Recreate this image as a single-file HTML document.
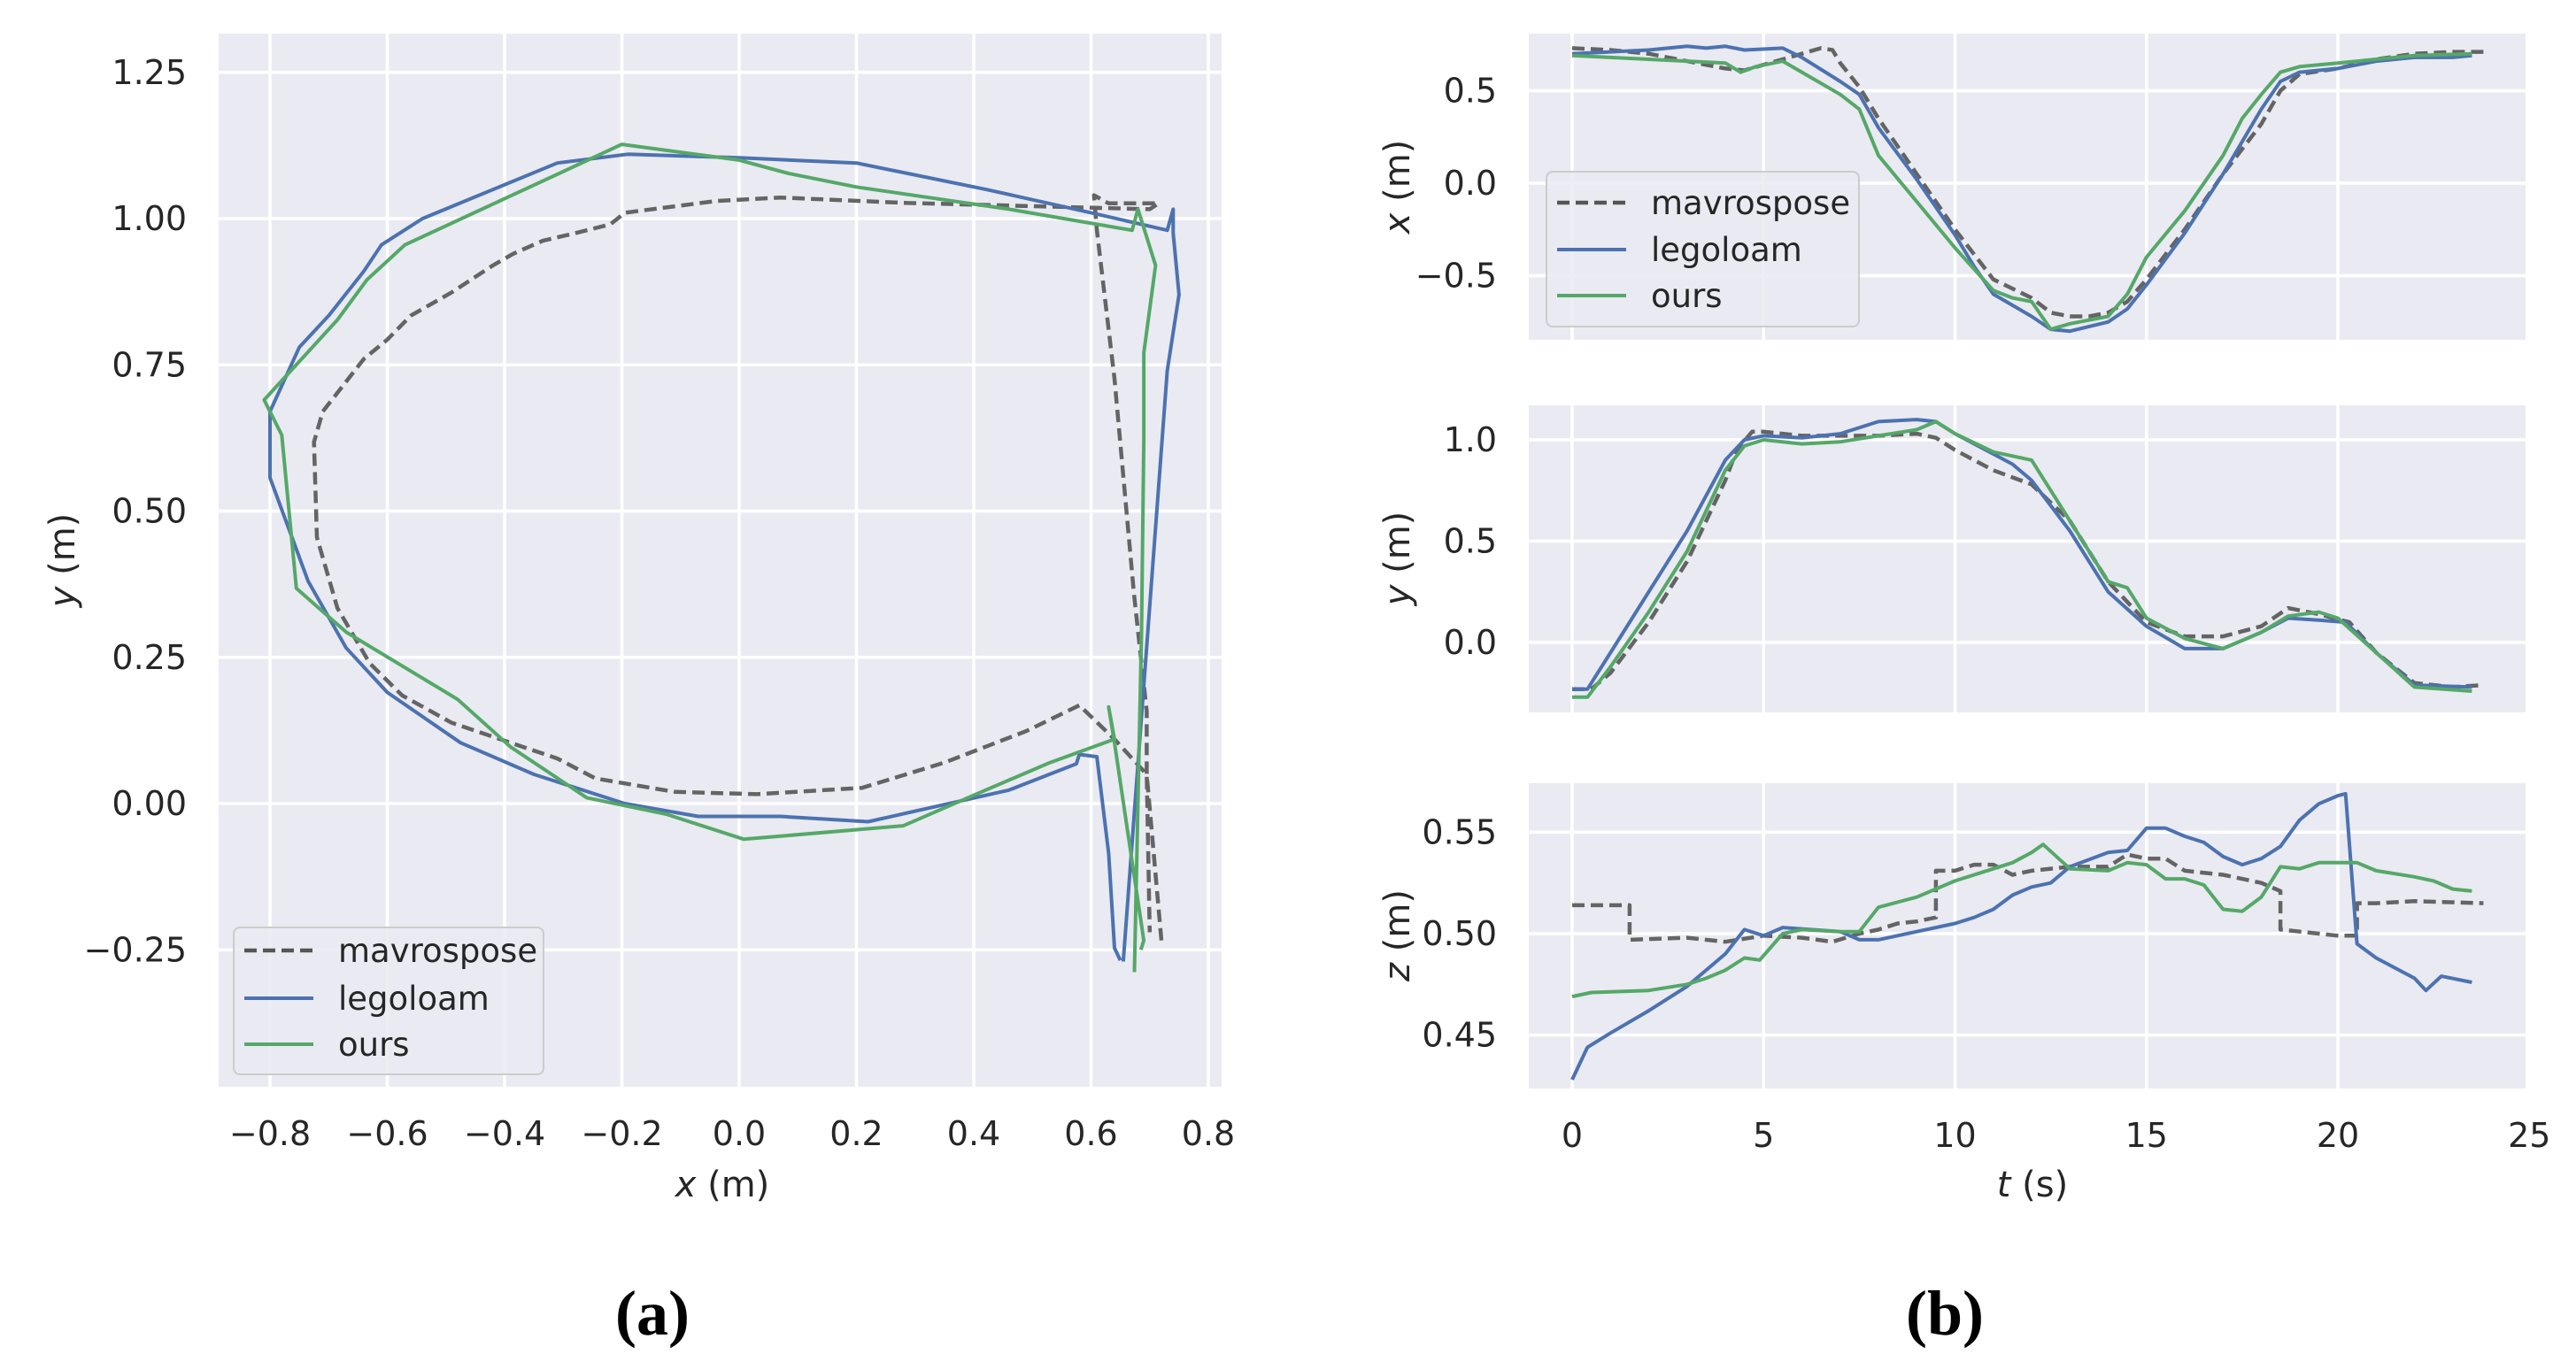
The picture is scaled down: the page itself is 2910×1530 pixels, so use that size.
<!DOCTYPE html>
<html><head><meta charset="utf-8"><style>
html,body{margin:0;padding:0;background:#fff;}
svg{display:block;font-family:"DejaVu Sans","Liberation Sans",sans-serif;}
</style></head><body>
<svg id="fig" width="2910" height="1530" viewBox="0 0 2910 1530" xmlns="http://www.w3.org/2000/svg"></svg>
<script>
// ---------- Panel (a) trajectory data ----------
const trajMavX=[0.72,0.695,0.695,0.673,0.64,0.61,0.605,0.63,0.715,0.70,0.28,0.07,-0.04,-0.195,-0.22,-0.28,-0.335,-0.385,-0.42,-0.49,-0.56,-0.60,-0.64,-0.71,-0.725,-0.72,-0.685,-0.63,-0.575,-0.49,-0.31,-0.245,-0.11,0.03,0.21,0.35,0.49,0.58,0.64,0.695,0.70];
const trajMavY=[-0.234,0.05,0.158,0.36,0.726,0.98,1.04,1.026,1.026,1.016,1.027,1.036,1.03,1.01,0.99,0.975,0.962,0.94,0.92,0.874,0.834,0.793,0.76,0.67,0.618,0.455,0.334,0.24,0.185,0.138,0.077,0.043,0.02,0.016,0.027,0.07,0.124,0.168,0.11,0.05,-0.22];
const trajLegoX=[0.655,0.73,0.75,0.74,0.74,0.73,0.60,0.42,0.20,0.0,-0.19,-0.31,-0.54,-0.61,-0.64,-0.70,-0.75,-0.80,-0.80,-0.735,-0.67,-0.60,-0.475,-0.35,-0.195,-0.07,0.07,0.22,0.46,0.575,0.58,0.61,0.63,0.64,0.65];
const trajLegoY=[-0.27,0.74,0.87,0.975,1.016,0.98,1.01,1.05,1.095,1.104,1.11,1.095,1.0,0.955,0.91,0.834,0.78,0.67,0.557,0.38,0.266,0.19,0.104,0.05,0.0,-0.022,-0.022,-0.031,0.023,0.068,0.084,0.08,-0.085,-0.247,-0.268];
const trajOursX=[0.674,0.686,0.69,0.69,0.71,0.68,0.67,0.46,0.20,0.085,0.0,-0.20,-0.57,-0.635,-0.685,-0.81,-0.78,-0.755,-0.67,-0.48,-0.39,-0.26,-0.125,0.008,0.28,0.39,0.53,0.64,0.63,0.64,0.69,0.685];
const trajOursY=[-0.288,0.29,0.62,0.77,0.92,1.016,0.98,1.016,1.054,1.077,1.10,1.127,0.955,0.895,0.827,0.69,0.63,0.368,0.293,0.178,0.097,0.01,-0.018,-0.061,-0.038,0.01,0.07,0.11,0.165,0.104,-0.234,-0.25];
const aXTicks=[-0.8,-0.6,-0.4,-0.2,0.0,0.2,0.4,0.6,0.8];
const aXTickLabels=["−0.8","−0.6","−0.4","−0.2","0.0","0.2","0.4","0.6","0.8"];
const aYTicks=[-0.25,0,0.25,0.5,0.75,1.0,1.25];
const aYTickLabels=["−0.25","0.00","0.25","0.50","0.75","1.00","1.25"];

// ---------- Panel (b) time series data ----------
const xMavT=[0,1,2,3,4,4.5,5,5.5,6,6.5,6.8,7,7.5,8,9,10,11,12,12.5,13,13.5,14,14.5,15,16,17,18,18.5,19,20,21,22,23,23.8];
const xMavV=[0.73,0.72,0.70,0.66,0.62,0.61,0.64,0.67,0.70,0.73,0.72,0.65,0.52,0.35,0.05,-0.25,-0.52,-0.62,-0.70,-0.72,-0.72,-0.70,-0.64,-0.52,-0.25,0.05,0.32,0.50,0.59,0.62,0.67,0.70,0.71,0.71];
const xLegoT=[0,1,2,3,3.5,4,4.5,5.5,6,7,7.5,8,9,10,10.5,11,12,12.5,13,14,14.5,15,16,17,18,18.5,19,20,21,22,23,23.5];
const xLegoV=[0.70,0.71,0.72,0.74,0.73,0.74,0.72,0.73,0.68,0.55,0.48,0.30,0.02,-0.28,-0.45,-0.60,-0.72,-0.79,-0.80,-0.75,-0.68,-0.55,-0.27,0.05,0.40,0.55,0.60,0.62,0.66,0.68,0.68,0.69];
const xOursT=[0,1,2,3,4,4.4,4.8,5.5,6,7,7.5,8,9,10,11,11.5,12,12.5,13,14,14.5,15,16,17,17.5,18,18.5,19,20,21,22,23.5];
const xOursV=[0.69,0.68,0.67,0.66,0.65,0.60,0.63,0.66,0.60,0.48,0.40,0.15,-0.10,-0.35,-0.58,-0.62,-0.64,-0.79,-0.76,-0.72,-0.60,-0.40,-0.15,0.15,0.35,0.48,0.60,0.63,0.65,0.67,0.69,0.70];

const yMavT=[0,0.5,1,2,3,4,4.3,4.7,5,6,7,8,9,9.5,10,11,12,13,14,15,16,17,18,18.7,19.5,20.3,21,22,23,23.8];
const yMavV=[-0.23,-0.23,-0.15,0.10,0.40,0.80,0.95,1.04,1.04,1.02,1.02,1.02,1.03,1.01,0.95,0.85,0.78,0.60,0.30,0.10,0.03,0.03,0.08,0.17,0.14,0.10,-0.05,-0.20,-0.22,-0.21];
const yLegoT=[0,0.4,1,2,3,4,4.5,5,6,7,8,9,9.5,10,11,11.5,12,13,14,15,16,17,18,18.7,19.5,20.2,21,22,23.5];
const yLegoV=[-0.23,-0.23,-0.05,0.25,0.55,0.90,1.00,1.02,1.01,1.03,1.09,1.10,1.09,1.03,0.93,0.88,0.80,0.55,0.25,0.08,-0.03,-0.03,0.05,0.12,0.11,0.10,-0.05,-0.21,-0.22];
const yOursT=[0,0.4,1,2,3,4,4.5,5,6,7,8,9,9.5,10,11,12,13,14,14.5,15,16,17,18,18.7,19.5,20,21,22,23.5];
const yOursV=[-0.27,-0.27,-0.12,0.15,0.45,0.85,0.97,1.00,0.98,0.99,1.02,1.05,1.09,1.03,0.94,0.90,0.60,0.30,0.27,0.12,0.02,-0.03,0.05,0.13,0.15,0.12,-0.05,-0.22,-0.24];

const zMavT=[0,1.5,1.5,3,4,5,6,6.8,7.5,8,8.5,9,9.5,9.5,10,10.5,11,11.5,12,13,14,14.5,15,15.5,16,17,18,18.5,18.5,19,20,20.5,20.5,21,22,23.8];
const zMavV=[0.514,0.514,0.497,0.498,0.496,0.499,0.498,0.496,0.500,0.502,0.505,0.506,0.508,0.531,0.531,0.534,0.534,0.529,0.531,0.533,0.533,0.539,0.537,0.537,0.531,0.529,0.525,0.521,0.502,0.501,0.499,0.499,0.515,0.515,0.516,0.515];
const zLegoT=[0,0.4,1,2,3,4,4.5,5,5.5,7,7.5,8,9,10,10.5,11,11.5,12,12.5,13,14,14.5,15,15.5,16,16.5,17,17.5,18,18.5,19,19.5,20,20.2,20.5,21,22,22.3,22.7,23.5];
const zLegoV=[0.428,0.444,0.451,0.462,0.474,0.490,0.502,0.499,0.503,0.501,0.497,0.497,0.501,0.505,0.508,0.512,0.519,0.523,0.525,0.533,0.540,0.541,0.552,0.552,0.548,0.545,0.538,0.534,0.537,0.543,0.556,0.564,0.568,0.569,0.495,0.488,0.478,0.472,0.479,0.476];
const zOursT=[0,0.5,2,3,3.5,4,4.5,4.9,5.5,6,7,7.5,8,9,10,11,11.5,12,12.3,13,14,14.5,15,15.5,16,16.5,17,17.5,18,18.5,19,19.5,20,20.5,21,22,22.5,23,23.5];
const zOursV=[0.469,0.471,0.472,0.475,0.478,0.482,0.488,0.487,0.500,0.502,0.501,0.501,0.513,0.518,0.526,0.532,0.535,0.540,0.544,0.532,0.531,0.535,0.534,0.527,0.527,0.524,0.512,0.511,0.518,0.533,0.532,0.535,0.535,0.535,0.531,0.528,0.526,0.522,0.521];

const tTicks=[0,5,10,15,20,25];
const tTickLabels=["0","5","10","15","20","25"];
const xPanelTicks=[-0.5,0,0.5];
const xPanelTickLabels=["−0.5","0.0","0.5"];
const yPanelTicks=[0,0.5,1.0];
const yPanelTickLabels=["0.0","0.5","1.0"];
const zPanelTicks=[0.45,0.50,0.55];
const zPanelTickLabels=["0.45","0.50","0.55"];

const NS="http://www.w3.org/2000/svg";
const svg=document.getElementById('fig');
function mk(tag,attrs,parent){const e=document.createElementNS(NS,tag);for(const k in attrs)e.setAttribute(k,attrs[k]);(parent||svg).appendChild(e);return e;}
const C_MAV="#555555",C_LEGO="#4c72b0",C_OURS="#55a868",BG="#eaeaf2",TXT="#262626";

function panel(name,L,T,R,B,xs,ys,xticks,xlabels,yticks,ylabels,showX){
  const g=mk('g',{});
  
  
  const bg=mk('rect',{x:L,y:T,width:R-L,height:B-T,fill:BG},g);
  
  
  xticks.forEach((v,i)=>{const px=xs(v);if(px<L-6||px>R+6)return;
    if(px>=L&&px<=R){
      const l=mk('line',{x1:px,x2:px,y1:T,y2:B,stroke:'#fff','stroke-width':3.5},g);
      
      
    }
    if(showX){const t=mk('text',{x:px,y:B+66,'font-size':38,fill:TXT,'text-anchor':'middle'},g);t.textContent=xlabels[i];
      
      }
  });
  yticks.forEach((v,i)=>{const py=ys(v);
    const l=mk('line',{x1:L,x2:R,y1:py,y2:py,stroke:'#fff','stroke-width':3.5},g);
    
    
    const t=mk('text',{x:L-36,y:py+13,'font-size':38,fill:TXT,'text-anchor':'end'},g);t.textContent=ylabels[i];
    
    
  });
  const clipId='clip-'+name;
  const cp=mk('clipPath',{id:clipId},g);mk('rect',{x:L,y:T,width:R-L,height:B-T},cp);
  const lg=mk('g',{'clip-path':'url(#'+clipId+')'},g);
  return lg;
}
function series(parent,xArr,yArr,xs,ys,color,dashed,name){
  const pts=xArr.map((v,i)=>xs(v).toFixed(1)+','+ys(yArr[i]).toFixed(1)).join(' ');
  const a={points:pts,fill:'none',stroke:color,'stroke-width':dashed?4.5:4,'stroke-linejoin':'round'};
  if(dashed){a['stroke-dasharray']='14,7';a['stroke-opacity']=0.9;}
  const p=mk('polyline',a,parent);
  
  
}
function legend(x,y,w,h,rows,name){
  const g=mk('g',{});
  
  
  mk('rect',{x:x,y:y,width:w,height:h,rx:7,fill:'#eaeaf2','fill-opacity':0.85,stroke:'#cccccc','stroke-width':2},g);
  const items=[["mavrospose",C_MAV,true],["legoloam",C_LEGO,false],["ours",C_OURS,false]];
  items.forEach((it,i)=>{
    const cy=y+rows[i];
    const l=mk('line',{x1:x+12,x2:x+90,y1:cy,y2:cy,stroke:it[1],'stroke-width':it[2]?4.5:4},g);
    if(it[2])l.setAttribute('stroke-dasharray','14,7');
    
    
    const t=mk('text',{x:x+118,y:cy+13,'font-size':37,fill:TXT},g);t.textContent=it[0];
    
    
  });
}
function label(txt,x,y,rot,size){
  const t=mk('text',{x:x,y:y,'font-size':size,fill:TXT,'text-anchor':'middle'});
  if(rot)t.setAttribute('transform','rotate(-90 '+x+' '+y+')');
  t.innerHTML=txt;return t;
}

// ---- panel (a)
const ax=v=>835+662.5*v, ay=v=>908-661*v;
const ga=panel('trajectory-plot',247,38,1380,1228,ax,ay,aXTicks,aXTickLabels,aYTicks,aYTickLabels,true);
series(ga,trajMavX,trajMavY,ax,ay,C_MAV,true,'trajectory-mavrospose');
series(ga,trajLegoX,trajLegoY,ax,ay,C_LEGO,false,'trajectory-legoloam');
series(ga,trajOursX,trajOursY,ax,ay,C_OURS,false,'trajectory-ours');
legend(264,1048,350,166,[26,80,132],'legend-a');
let t;
t=label('<tspan font-style="italic">x</tspan> (m)',816,1352,false,40);
t=label('<tspan font-style="italic">y</tspan> (m)',84,633,true,40);

// ---- panel (b)
const bt=v=>1776+43.25*v;
const px=v=>207-209*v;
const py=v=>726-229*v;
const pz=v=>1055-2292*(v-0.50);
const g1=panel('x-vs-t-plot',1727,38,2853,384,bt,px,tTicks,[],xPanelTicks,xPanelTickLabels,false);
series(g1,xMavT,xMavV,bt,px,C_MAV,true,'x-mavrospose');
series(g1,xLegoT,xLegoV,bt,px,C_LEGO,false,'x-legoloam');
series(g1,xOursT,xOursV,bt,px,C_OURS,false,'x-ours');
const g2=panel('y-vs-t-plot',1727,458,2853,805,bt,py,tTicks,[],yPanelTicks,yPanelTickLabels,false);
series(g2,yMavT,yMavV,bt,py,C_MAV,true,'y-mavrospose');
series(g2,yLegoT,yLegoV,bt,py,C_LEGO,false,'y-legoloam');
series(g2,yOursT,yOursV,bt,py,C_OURS,false,'y-ours');
const g3=panel('z-vs-t-plot',1727,885,2853,1230,bt,pz,tTicks,tTickLabels,zPanelTicks,zPanelTickLabels,true);
series(g3,zMavT,zMavV,bt,pz,C_MAV,true,'z-mavrospose');
series(g3,zLegoT,zLegoV,bt,pz,C_LEGO,false,'z-legoloam');
series(g3,zOursT,zOursV,bt,pz,C_OURS,false,'z-ours');
legend(1747,194,353,175,[35,88,140],'legend-b');
t=label('<tspan font-style="italic">t</tspan> (s)',2296,1352,false,40);
t=label('<tspan font-style="italic">x</tspan> (m)',1592,211,true,40);
t=label('<tspan font-style="italic">y</tspan> (m)',1592,631,true,40);
t=label('<tspan font-style="italic">z</tspan> (m)',1592,1057,true,40);

// subfigure captions
t=mk('text',{x:737,y:1508,'font-size':72,'font-weight':'bold','font-family':'"Liberation Serif",serif','text-anchor':'middle',fill:'#000'});t.textContent='(a)';


t=mk('text',{x:2197,y:1508,'font-size':72,'font-weight':'bold','font-family':'"Liberation Serif",serif','text-anchor':'middle',fill:'#000'});t.textContent='(b)';


</script>
</body></html>
